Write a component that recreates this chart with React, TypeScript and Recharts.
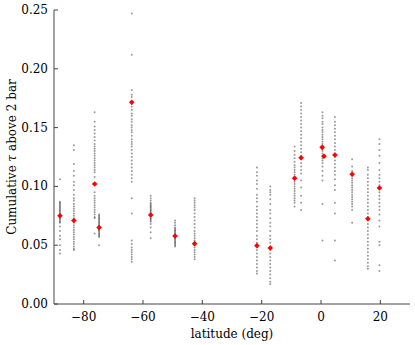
import React from 'react';
import { ScatterChart, Scatter, XAxis, YAxis } from 'recharts';

// gray columns: individual retrievals per latitude band
const tauM88 = [0.106, 0.087, 0.086, 0.085, 0.084, 0.083, 0.082, 0.081, 0.080, 0.079, 0.078, 0.077, 0.076, 0.075, 0.074, 0.073, 0.072, 0.071, 0.070, 0.069, 0.066, 0.062, 0.058, 0.055, 0.050, 0.046, 0.043];
const tauM83 = [0.135, 0.131, 0.119, 0.113, 0.109, 0.104, 0.101, 0.097, 0.093, 0.090, 0.088, 0.085, 0.083, 0.081, 0.079, 0.077, 0.075, 0.073, 0.071, 0.069, 0.067, 0.065, 0.063, 0.061, 0.059, 0.057, 0.055, 0.053, 0.051, 0.049, 0.047, 0.046];
const tauM76 = [0.163, 0.155, 0.151, 0.148, 0.145, 0.142, 0.139, 0.136, 0.134, 0.132, 0.130, 0.128, 0.126, 0.124, 0.122, 0.120, 0.118, 0.116, 0.114, 0.112, 0.108, 0.095, 0.092, 0.090, 0.088, 0.086, 0.084, 0.082, 0.080, 0.078, 0.076, 0.074, 0.073, 0.060];
const tauM75 = [0.076, 0.075, 0.074, 0.073, 0.072, 0.071, 0.070, 0.069, 0.068, 0.067, 0.066, 0.065, 0.064, 0.063, 0.062, 0.061, 0.060, 0.059, 0.058, 0.057, 0.050];
const tauM64 = [0.247, 0.212, 0.182, 0.178, 0.176, 0.170, 0.168, 0.165, 0.162, 0.160, 0.157, 0.155, 0.152, 0.150, 0.148, 0.146, 0.143, 0.140, 0.138, 0.136, 0.134, 0.131, 0.128, 0.125, 0.122, 0.119, 0.116, 0.113, 0.110, 0.107, 0.104, 0.090, 0.077, 0.054, 0.051, 0.048, 0.046, 0.044, 0.042, 0.040, 0.038, 0.036];
const tauM57 = [0.092, 0.090, 0.088, 0.086, 0.085, 0.084, 0.083, 0.082, 0.081, 0.080, 0.079, 0.078, 0.077, 0.076, 0.075, 0.074, 0.073, 0.072, 0.071, 0.070, 0.068, 0.065, 0.061, 0.056];
const tauM49 = [0.071, 0.069, 0.067, 0.065, 0.064, 0.063, 0.062, 0.061, 0.060, 0.059, 0.058, 0.057, 0.056, 0.055, 0.054, 0.053, 0.052, 0.051, 0.050, 0.049];
const tauM43 = [0.090, 0.088, 0.086, 0.084, 0.082, 0.080, 0.077, 0.074, 0.071, 0.068, 0.065, 0.062, 0.060, 0.058, 0.056, 0.054, 0.052, 0.050, 0.048, 0.046, 0.044, 0.042, 0.040, 0.038];
const tauM22 = [0.116, 0.112, 0.109, 0.105, 0.102, 0.098, 0.093, 0.090, 0.087, 0.083, 0.080, 0.077, 0.074, 0.071, 0.068, 0.065, 0.062, 0.058, 0.055, 0.052, 0.049, 0.046, 0.043, 0.040, 0.037, 0.034, 0.031, 0.028, 0.026];
const tauM17 = [0.100, 0.097, 0.095, 0.093, 0.089, 0.085, 0.080, 0.077, 0.073, 0.069, 0.066, 0.062, 0.058, 0.055, 0.052, 0.049, 0.046, 0.043, 0.040, 0.037, 0.034, 0.031, 0.028, 0.025, 0.022, 0.019, 0.017];
const tauM9 = [0.134, 0.130, 0.127, 0.124, 0.121, 0.118, 0.116, 0.114, 0.112, 0.110, 0.108, 0.106, 0.104, 0.102, 0.100, 0.098, 0.096, 0.094, 0.092, 0.090, 0.088, 0.086, 0.083];
const tauM7 = [0.171, 0.168, 0.165, 0.162, 0.159, 0.156, 0.153, 0.150, 0.147, 0.144, 0.141, 0.138, 0.135, 0.132, 0.129, 0.126, 0.123, 0.120, 0.117, 0.114, 0.111, 0.105, 0.099, 0.092, 0.086, 0.080];
const tauP0 = [0.163, 0.160, 0.158, 0.155, 0.153, 0.150, 0.148, 0.146, 0.144, 0.142, 0.140, 0.138, 0.136, 0.134, 0.132, 0.130, 0.128, 0.126, 0.124, 0.122, 0.120, 0.117, 0.113, 0.109, 0.105, 0.085, 0.054];
const tauP5 = [0.159, 0.155, 0.152, 0.149, 0.146, 0.143, 0.140, 0.137, 0.134, 0.131, 0.128, 0.125, 0.122, 0.119, 0.116, 0.113, 0.110, 0.106, 0.101, 0.097, 0.086, 0.077, 0.054, 0.037];
const tauP10 = [0.123, 0.117, 0.113, 0.111, 0.109, 0.107, 0.105, 0.103, 0.101, 0.099, 0.097, 0.095, 0.093, 0.091, 0.089, 0.087, 0.085, 0.083, 0.080, 0.069];
const tauP16 = [0.116, 0.114, 0.110, 0.107, 0.104, 0.101, 0.098, 0.095, 0.092, 0.089, 0.086, 0.083, 0.080, 0.077, 0.074, 0.071, 0.068, 0.065, 0.062, 0.059, 0.056, 0.053, 0.050, 0.047, 0.044, 0.041, 0.038, 0.035, 0.032, 0.030];
const tauP20 = [0.140, 0.136, 0.131, 0.126, 0.120, 0.114, 0.110, 0.107, 0.104, 0.101, 0.098, 0.095, 0.092, 0.089, 0.086, 0.083, 0.080, 0.076, 0.071, 0.066, 0.053, 0.050, 0.033, 0.028];

const grayLats = [-88, -83.3, -76.3, -74.8, -63.8, -57.4, -49.2, -42.6, -21.6, -17.1, -8.9, -6.7, 0.5, 4.7, 10.5, 15.8, 19.7];
const grayTaus = [tauM88, tauM83, tauM76, tauM75, tauM64, tauM57, tauM49, tauM43, tauM22, tauM17, tauM9, tauM7, tauP0, tauP5, tauP10, tauP16, tauP20];

// red: band means
const meanLats = [-88, -83.3, -76.3, -74.8, -63.8, -57.4, -49.2, -42.6, -21.6, -17.1, -8.9, -6.7, 0.4, 1.0, 4.7, 10.5, 15.8, 19.7];
const meanTaus = [0.075, 0.071, 0.102, 0.065, 0.1715, 0.0757, 0.0578, 0.0513, 0.0496, 0.0476, 0.1069, 0.1244, 0.1332, 0.1256, 0.1267, 0.1103, 0.0725, 0.0986];

const xTicks = [-80, -60, -40, -20, 0, 20];
const yTicks = [0, 0.05, 0.1, 0.15, 0.2, 0.25];

const grayData = grayLats.flatMap((lat, i) => grayTaus[i].map((tau) => ({ lat, tau })));
const meanData = meanLats.map((lat, i) => ({ lat, tau: meanTaus[i] }));

const FONT = '"DejaVu Serif", "Liberation Serif", serif';
const AXIS = '#444';

const fmtX = (v: number) => (v < 0 ? '\u2212' + Math.abs(v) : String(v));

const BottomTick = (p: any) => (
  <g>
    <line x1={p.x} x2={p.x} y1={p.y} y2={p.y - 4} stroke={AXIS} />
    <text x={p.x} y={p.y + 17} textAnchor="middle" fontSize={12} fontFamily={FONT} fill="#000">
      {fmtX(p.payload.value)}
    </text>
  </g>
);

const LeftTick = (p: any) => (
  <g>
    <line x1={p.x} x2={p.x + 4} y1={p.y} y2={p.y} stroke={AXIS} />
    <text x={p.x - 6} y={p.y + 4} textAnchor="end" fontSize={12} fontFamily={FONT} fill="#000">
      {p.payload.value.toFixed(2)}
    </text>
  </g>
);

const TopTick = (p: any) => <line x1={p.x} x2={p.x} y1={p.y} y2={p.y + 4} stroke={AXIS} />;
const RightTick = (p: any) => <line x1={p.x} x2={p.x - 4} y1={p.y} y2={p.y} stroke={AXIS} />;

const GrayDot = (p: any) => <circle cx={p.cx} cy={p.cy} r={1} fill="#000" fillOpacity={0.4} />;
const RedDot = (p: any) => (
  <polygon
    points={`${p.cx},${p.cy - 2.8} ${p.cx + 2.8},${p.cy} ${p.cx},${p.cy + 2.8} ${p.cx - 2.8},${p.cy}`}
    fill="#ff0000"
  />
);

const YLabel = (p: any) => {
  const vb = p.viewBox;
  const cy = vb.y + vb.height / 2;
  return (
    <text x={12} y={cy} transform={`rotate(-90, 12, ${cy})`} textAnchor="middle" fontSize={12} fontFamily={FONT} fill="#000" dominantBaseline="central">
      Cumulative <tspan fontStyle="italic">τ</tspan> above 2 bar
    </text>
  );
};

export default function App() {
  return (
    <div style={{ position: 'absolute', left: 0, top: 0, width: 415, height: 345, background: '#fff' }}>
      <ScatterChart width={415} height={345} margin={{ top: 10, right: 5, left: 0, bottom: 0 }}>
        <XAxis
          dataKey="lat"
          type="number"
          domain={[-90, 30]}
          ticks={xTicks}
          height={41}
          tickSize={0}
          tickMargin={0}
          tickLine={false}
          tick={<BottomTick />}
          axisLine={{ stroke: AXIS }}
          label={{ value: 'latitude (deg)', position: 'insideBottom', offset: 7, fontSize: 12, fontFamily: FONT, fill: '#000' }}
        />
        <XAxis
          xAxisId="top"
          orientation="top"
          type="number"
          domain={[-90, 30]}
          ticks={xTicks}
          height={0}
          tickSize={0}
          tickMargin={0}
          tickLine={false}
          tick={<TopTick />}
          axisLine={{ stroke: AXIS }}
        />
        <YAxis
          dataKey="tau"
          type="number"
          domain={[0, 0.25]}
          ticks={yTicks}
          width={54}
          tickSize={0}
          tickMargin={0}
          tickLine={false}
          tick={<LeftTick />}
          axisLine={{ stroke: AXIS }}
          label={<YLabel />}
        />
        <YAxis
          yAxisId="right"
          orientation="right"
          type="number"
          domain={[0, 0.25]}
          ticks={yTicks}
          width={0}
          tickSize={0}
          tickMargin={0}
          tickLine={false}
          tick={<RightTick />}
          axisLine={{ stroke: AXIS }}
        />
        <Scatter data={grayData} shape={<GrayDot />} isAnimationActive={false} />
        <Scatter data={meanData} shape={<RedDot />} isAnimationActive={false} />
      </ScatterChart>
    </div>
  );
}
